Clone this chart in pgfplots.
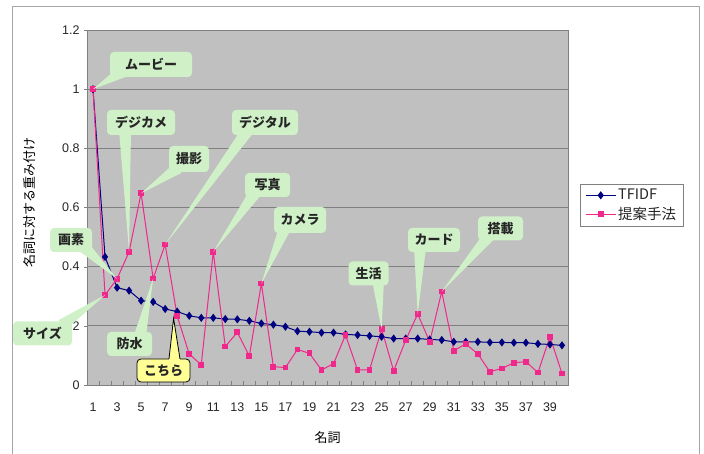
\documentclass[border=0pt]{standalone}
\usepackage{fontspec}
\setmainfont{Liberation Sans}
\newfontfamily\jp{Noto Sans CJK JP}
\usepackage{pgfplots}
\pgfplotsset{compat=1.18}
\usetikzlibrary{calc}

\definecolor{plotbg}{RGB}{192,192,192}
\definecolor{gridc}{RGB}{128,128,128}
\definecolor{tfidf}{RGB}{0,0,128}
\definecolor{prop}{RGB}{240,40,140}
\definecolor{callg}{RGB}{208,240,200}
\definecolor{cally}{RGB}{255,255,150}

\pgfplotstableread{
x y
1 1.000
2 0.433
3 0.329
4 0.319
5 0.285
6 0.281
7 0.257
8 0.248
9 0.234
10 0.227
11 0.227
12 0.223
13 0.222
14 0.217
15 0.208
16 0.204
17 0.197
18 0.182
19 0.180
20 0.177
21 0.177
22 0.171
23 0.169
24 0.166
25 0.163
26 0.157
27 0.157
28 0.157
29 0.154
30 0.152
31 0.146
32 0.146
33 0.146
34 0.144
35 0.144
36 0.143
37 0.143
38 0.139
39 0.137
40 0.134
}\tfidftab

\pgfplotstableread{
x y
1 1.000
2 0.304
3 0.359
4 0.450
5 0.648
6 0.360
7 0.475
8 0.233
9 0.105
10 0.068
11 0.450
12 0.130
13 0.178
14 0.098
15 0.343
16 0.062
17 0.059
18 0.120
19 0.107
20 0.051
21 0.072
22 0.169
23 0.051
24 0.051
25 0.189
26 0.048
27 0.151
28 0.240
29 0.146
30 0.316
31 0.116
32 0.139
33 0.105
34 0.045
35 0.056
36 0.075
37 0.079
38 0.042
39 0.163
40 0.039
}\proptab

% green rounded callout: #1 box centre, #2 width, #3 height, #4 text, #5 wedge base, #6 wedge tip
\newcommand{\callout}[6]{%
  \fill[callg] ($#5!6pt!90:#6$) -- #6 -- ($#5!6pt!-90:#6$) -- cycle;
  \node[fill=callg, rounded corners=4pt, minimum width=#2pt, minimum height=#3pt,
        inner sep=1pt, text=black!85, font=\jp\bfseries\fontsize{13}{15}\selectfont] at #1 {#4};
}

\begin{document}
\begin{tikzpicture}
\useasboundingbox (0pt,0pt) rectangle (704pt,454pt);
\fill[white] (0pt,0pt) rectangle (704pt,454pt);
% chart area frame
\draw[gray!70, line width=1pt] (12pt,0pt) -- (12pt,447pt) -- (699pt,447pt) -- (699pt,0pt);

\begin{axis}[
  at={(87pt,69pt)}, anchor=south west,
  scale only axis, width=481pt, height=355pt,
  xmin=0.5, xmax=40.5, ymin=0, ymax=1.2,
  axis background/.style={fill=plotbg},
  axis line style={gridc},
  xtick={1,3,...,39},
  major x tick style={draw=none},
  minor xtick={0.5,1.5,...,40.5},
  minor x tick style={gridc, line width=0.6pt},
  minor tick length=4pt,
  ytick={0,0.2,0.4,0.6,0.8,1,1.2},
  yticklabels={0,0.2,0.4,0.6,0.8,1,1.2},
  y tick style={gridc},
  major tick length=3pt,
  xtick align=inside, ytick align=outside,
  xtick pos=bottom, ytick pos=left,
  ymajorgrids, grid style={gridc, line width=0.8pt},
  /pgf/number format/assume math mode=true,
  tick label style={font=\fontsize{12.5}{14}\selectfont, text=black!85},
  xticklabel style={yshift=-14pt},
  yticklabel style={xshift=-1pt},
  xlabel={\jp 名詞},
  xlabel style={at={(axis description cs:0.5,-0.147)}, anchor=center, font=\fontsize{13}{15}\selectfont},
  ylabel={\jp 名詞に対する重み付け},
  ylabel style={at={(axis description cs:-0.1185,0.513)}, anchor=center, font=\fontsize{13}{15}\selectfont},
  legend style={at={(rel axis cs:1.025,0.566)}, anchor=north west,
    draw=gray, fill=white, font=\jp\fontsize{14.5}{17}\selectfont, text=black!85,
    inner xsep=5pt, inner ysep=3pt, row sep=2pt},
  legend cell align=left,
  legend image code/.code={
    \draw[#1, mark=none] (0pt,0pt) -- (30pt,0pt);
    \draw[#1, only marks] plot coordinates {(15pt,0pt)};
  },
  clip=false,
]
\addplot[tfidf, line width=1pt, mark=diamond*, mark size=3.3pt, mark options={fill=tfidf}] table[x=x,y=y] {\tfidftab};
\addlegendentry{TFIDF}
\addplot[prop, line width=1pt, mark=square*, mark size=2.4pt, mark options={fill=prop}] table[x=x,y=y] {\proptab};
\addlegendentry{提案手法}

\coordinate (m1) at (axis cs:1,1.000);
\coordinate (m2) at (axis cs:2,0.304);
\coordinate (m3) at (axis cs:3,0.359);
\coordinate (m4) at (axis cs:4,0.450);
\coordinate (m5) at (axis cs:5,0.648);
\coordinate (m6) at (axis cs:6,0.360);
\coordinate (m7) at (axis cs:7,0.475);
\coordinate (m8) at (axis cs:7.7,0.225);
\coordinate (m11) at (axis cs:11,0.450);
\coordinate (m15) at (axis cs:15,0.343);
\coordinate (m25) at (axis cs:25,0.189);
\coordinate (m28) at (axis cs:28,0.240);
\coordinate (m30) at (axis cs:30,0.316);
\end{axis}

% annotations
\callout{(151pt,389.5pt)}{82}{25}{ムービー}{(122pt,382pt)}{(m1)}
\callout{(141pt,331.5pt)}{68}{25}{デジカメ}{(125pt,324pt)}{(m4)}
\callout{(189pt,295pt)}{40}{26}{撮影}{(178pt,286pt)}{(m5)}
\callout{(265pt,331.5pt)}{66}{25}{デジタル}{(248pt,324pt)}{(m7)}
\callout{(267.5pt,269pt)}{45}{24}{写真}{(255pt,261pt)}{(m11)}
\callout{(300pt,234pt)}{52}{26}{カメラ}{(285pt,226pt)}{(m15)}
\callout{(368.5pt,180.5pt)}{40}{24}{生活}{(378pt,174pt)}{(m25)}
\callout{(434pt,214pt)}{52}{24}{カード}{(420pt,206pt)}{(m28)}
\callout{(500.5pt,225.5pt)}{45}{24}{搭載}{(490pt,219pt)}{(m30)}
\callout{(71pt,214pt)}{42}{24}{画素}{(85pt,206pt)}{(m3)}
\callout{(42.5pt,120.5pt)}{59}{24}{サイズ}{(62pt,129pt)}{(m2)}
\callout{(129.5pt,110pt)}{45}{24}{防水}{(140pt,118pt)}{(m6)}

% yellow outlined callout
\node[fill=cally, draw=black, line width=0.8pt, rounded corners=4pt, minimum width=53pt,
      minimum height=23pt, inner sep=1pt, text=black!85, font=\jp\bfseries\fontsize{13}{15}\selectfont]
      at (163.5pt,83.5pt) {こちら};
\fill[cally] (169pt,93.5pt) -- (m8) -- (180pt,93.5pt) -- cycle;
\draw[black, line width=0.8pt] (169pt,95.1pt) -- (m8) -- (180pt,95.1pt);
\end{tikzpicture}
\end{document}
